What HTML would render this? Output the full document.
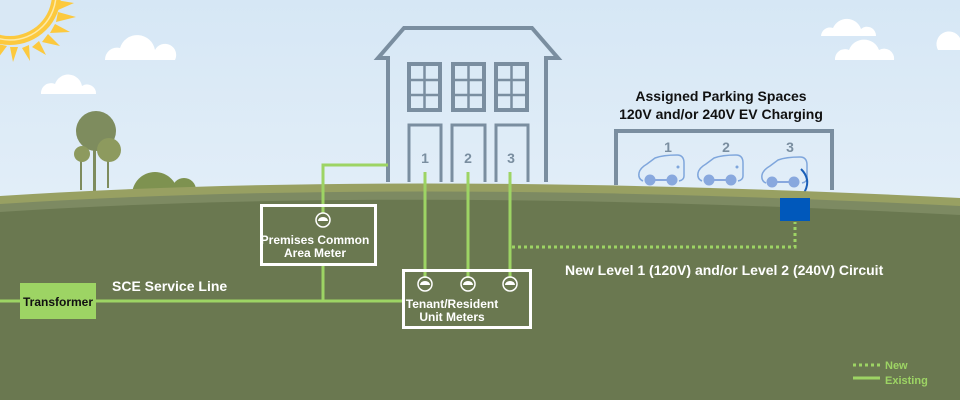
<!DOCTYPE html>
<html><head><meta charset="utf-8"><style>
html,body{margin:0;padding:0;width:960px;height:400px;overflow:hidden}
text{font-family:"Liberation Sans",Arial,sans-serif;font-weight:bold}
</style></head><body>
<svg width="960" height="400" viewBox="0 0 960 400" xmlns="http://www.w3.org/2000/svg">
<defs><linearGradient id="sky" x1="0" y1="0" x2="0" y2="1"><stop offset="0" stop-color="#d6e7f5"/><stop offset="1" stop-color="#eef5fb"/></linearGradient></defs>
<rect width="960" height="400" fill="url(#sky)"/>
<!-- sun -->
<g fill="#fcc93e">
<polygon points="56,0 74,3 58,10"/><polygon points="58,12 76,17 56,22"/><polygon points="55,24 70,32 50,33"/><polygon points="48,34 60,46 42,42"/><polygon points="39,41 46,55 32,47"/><polygon points="29,45 30,61 22,48"/><polygon points="18,47 13,62 10,47"/><polygon points="7,46 -2,58 -2,44"/>
<circle cx="10" cy="-6" r="51"/>
</g>
<circle cx="10" cy="-6" r="46" fill="none" stroke="#fdeaa8" stroke-width="1.5"/>
<circle cx="10" cy="-6" r="42" fill="#d9e8f5"/>
<!-- clouds -->
<g fill="#fff">
<path d="M105,60 a12,12 0 0 1 15,-12 a18,18 0 0 1 35,2 a11,11 0 0 1 20,10 z"/>
<path d="M41,94 a10,10 0 0 1 14,-10 a14,14 0 0 1 27,2 a9,9 0 0 1 14,8 z"/>
<path d="M821,36 a9,9 0 0 1 12,-8 a15,15 0 0 1 28,1 a9,9 0 0 1 15,7 z"/>
<path d="M835,60 a10,10 0 0 1 14,-10 a16,16 0 0 1 30,0 a10,10 0 0 1 15,10 z"/>
<path d="M938,50 a12,12 0 0 1 22,-12 v12 z"/>
</g>
<!-- trees -->
<g fill="#7e8c5e">
<rect x="93" y="140" width="3" height="52"/><rect x="80" y="155" width="2" height="35"/><rect x="107" y="155" width="2" height="33"/>
<circle cx="96" cy="131" r="20"/><circle cx="82" cy="154" r="8" fill="#8d9a5e"/><circle cx="109" cy="150" r="12" fill="#8d9a5e"/>
<circle cx="155" cy="195" r="23" fill="#7e9250"/><circle cx="184" cy="190" r="12" fill="#7e9250"/>
</g>
<!-- house -->
<g fill="none" stroke="#7a8ea0" stroke-width="4">
<path d="M388,182 V58 H378 L404,28 H532 L558,58 H546 V182"/>
<rect x="409" y="64" width="31" height="46"/><rect x="453" y="64" width="31" height="46"/><rect x="496" y="64" width="31" height="46"/>
<path d="M424.5,64 V110 M409,80 H440 M409,95 H440 M468.5,64 V110 M453,80 H484 M453,95 H484 M511.5,64 V110 M496,80 H527 M496,95 H527" stroke-width="2.5"/>
<path d="M409,182 V125 H441 V182 M452,182 V125 H485 V182 M496,182 V125 H528 V182" stroke-width="3"/>
<path d="M616,185 V131 H832 V190"/>
</g>
<g fill="#7a8ea0" font-size="14" text-anchor="middle">
<text x="425" y="163">1</text><text x="468" y="163">2</text><text x="511" y="163">3</text>
<text x="668" y="152">1</text><text x="726" y="152">2</text><text x="790" y="152">3</text>
</g>
<text x="721" y="101" font-size="14" text-anchor="middle" fill="#111">Assigned Parking Spaces</text>
<text x="721" y="119" font-size="14" text-anchor="middle" fill="#111">120V and/or 240V EV Charging</text>
<!-- cars -->
<g fill="none" stroke="#7fa6dc" stroke-width="1.5">
<path d="M643,181 q-5,-2 -4,-8 q1,-5 8,-9 l8,-6 q8,-3 22,-3 q7,0 7,8 v13 q0,4 -5,5"/>
<path d="M702,181 q-5,-2 -4,-8 q1,-5 8,-9 l8,-6 q8,-3 22,-3 q7,0 7,8 v13 q0,4 -5,5"/>
<path d="M766,183 q-5,-2 -4,-8 q1,-5 8,-9 l8,-6 q8,-3 22,-3 q7,0 7,8 v13 q0,4 -5,5"/>
</g>
<g fill="#88a8de"><circle cx="650" cy="180" r="5.5"/><circle cx="672" cy="180" r="5.5"/><rect x="650" y="179" width="22" height="2"/>
<circle cx="709" cy="180" r="5.5"/><circle cx="731" cy="180" r="5.5"/><rect x="709" y="179" width="22" height="2"/>
<circle cx="772" cy="182" r="5.5"/><circle cx="794" cy="182" r="5.5"/><rect x="772" y="181" width="22" height="2"/></g>
<g fill="#7fa6dc"><circle cx="678" cy="167" r="1.5"/><circle cx="737" cy="167" r="1.5"/></g>
<path d="M801,169 q10,10 4,22 l-5,8" fill="none" stroke="#1a5fb8" stroke-width="2"/>
<!-- ground -->
<path d="M0,196 Q400,170 960,198 V400 H0 Z" fill="#98a062"/>
<path d="M0,204 Q400,178 960,206 V400 H0 Z" fill="#7d8a62"/>
<path d="M0,212 Q400,186 960,215 V400 H0 Z" fill="#6a7850"/>
<rect x="780" y="198" width="30" height="23" fill="#0058bb"/>
<!-- lines -->
<g stroke="#9dd464" stroke-width="3" fill="none">
<path d="M0,301 H404"/><path d="M323,301 V264"/><path d="M323,213 V165 H388"/>
<path d="M425,278 V172 M468,278 V172 M510,278 V172"/>
<path d="M512,247 H795 V222" stroke-dasharray="3,3"/>
<path d="M853,365 H880" stroke-dasharray="3,3"/><path d="M853,378 H880"/>
</g>
<rect x="20" y="283" width="76" height="36" fill="#9dd464"/>
<text x="58" y="306" font-size="12" text-anchor="middle" fill="#111">Transformer</text>
<text x="112" y="291" font-size="14" fill="#fff">SCE Service Line</text>
<rect x="261.5" y="205.5" width="114" height="59" fill="none" stroke="#fff" stroke-width="3"/>
<rect x="403.5" y="270.5" width="127" height="57" fill="none" stroke="#fff" stroke-width="3"/>
<g fill="none" stroke="#fff" stroke-width="1.5">
<circle cx="323" cy="220" r="7"/><circle cx="425" cy="284" r="7"/><circle cx="468" cy="284" r="7"/><circle cx="510" cy="284" r="7"/>
</g>
<g fill="#fff">
<path d="M318,221 a5,4 0 0 1 10,0 z"/><path d="M420,285 a5,4 0 0 1 10,0 z"/><path d="M463,285 a5,4 0 0 1 10,0 z"/><path d="M505,285 a5,4 0 0 1 10,0 z"/>
</g>
<g font-size="12" fill="#fff" text-anchor="middle">
<text x="315" y="244">Premises Common</text><text x="315" y="257">Area Meter</text>
<text x="452" y="308">Tenant/Resident</text><text x="452" y="321">Unit Meters</text>
</g>
<text x="565" y="275" font-size="14" fill="#fff">New Level 1 (120V) and/or Level 2 (240V) Circuit</text>
<text x="885" y="369" font-size="11" fill="#9dd464">New</text>
<text x="885" y="384" font-size="11" fill="#9dd464">Existing</text>
</svg>
</body></html>
